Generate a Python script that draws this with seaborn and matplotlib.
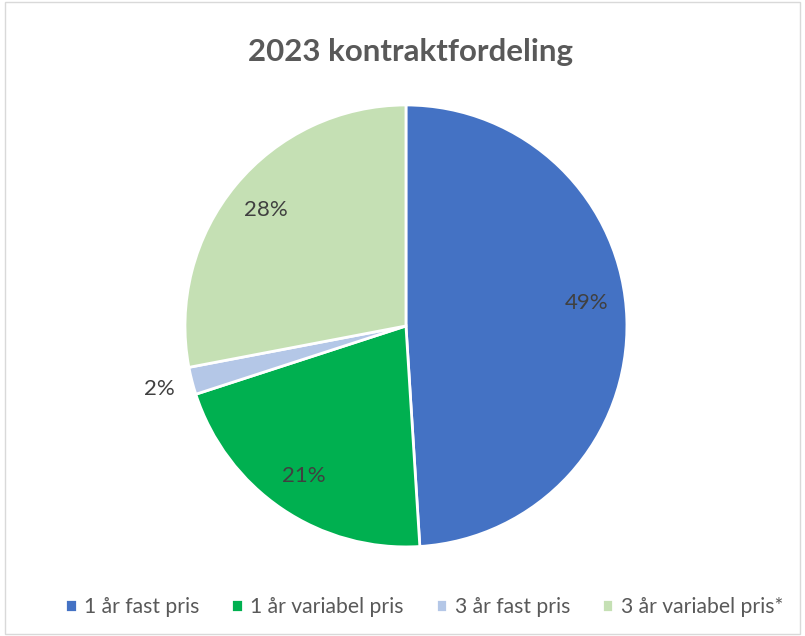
import numpy as np
import seaborn as sns
import matplotlib.pyplot as plt
from matplotlib.patches import Rectangle

# data
kategorier = ["1 år fast pris", "1 år variabel pris", "3 år fast pris", "3 år variabel pris*"]
andel = [49, 21, 2, 28]
farger = ["#4472C4", "#00B050", "#B4C7E7", "#C5E0B4"]

sns.set_theme(style="white")
plt.rcParams['font.family'] = ['Lato', 'DejaVu Sans']

fig = plt.figure(figsize=(8.05, 6.36), dpi=100)
ax = fig.add_axes([0.2298, 0.140, 0.549, 0.695])

wedges, texts, pcts = ax.pie(
    andel, colors=sns.color_palette(farger), startangle=90, counterclock=False,
    autopct=lambda p: f"{p:.0f}%", pctdistance=0.82,
    wedgeprops=dict(edgecolor="white", linewidth=2),
    textprops=dict(color="#404040", fontsize=16))
ax.set_xlim(-1, 1)
ax.set_ylim(-1, 1)
ax.set_aspect("equal")

# liten sektor: etikett utenfor
w = wedges[2]
vinkel = np.deg2rad((w.theta1 + w.theta2) / 2)
pcts[2].set_position((1.15 * np.cos(vinkel), 1.15 * np.sin(vinkel)))
# 49% litt høyere, som i originalen
x, y = pcts[0].get_position()
pcts[0].set_position((x, y + 0.08))

fig.suptitle("2023 kontraktfordeling", x=0.51, y=0.94, fontsize=22.5, fontweight="bold", color="#595959")

leg = fig.legend(wedges, kategorier, loc="center", bbox_to_anchor=(0.527, 0.046), ncol=4,
                 frameon=False, handlelength=0.55, handleheight=0.55, handletextpad=0.35,
                 columnspacing=1.5, fontsize=15.2)
for t in leg.get_texts():
    t.set_color("#595959")

fig.patches.append(Rectangle((0.006, 0.003), 0.988, 0.994, transform=fig.transFigure,
                             fill=False, edgecolor="#D9D9D9", linewidth=1))

fig.savefig("out.png", dpi=100)
